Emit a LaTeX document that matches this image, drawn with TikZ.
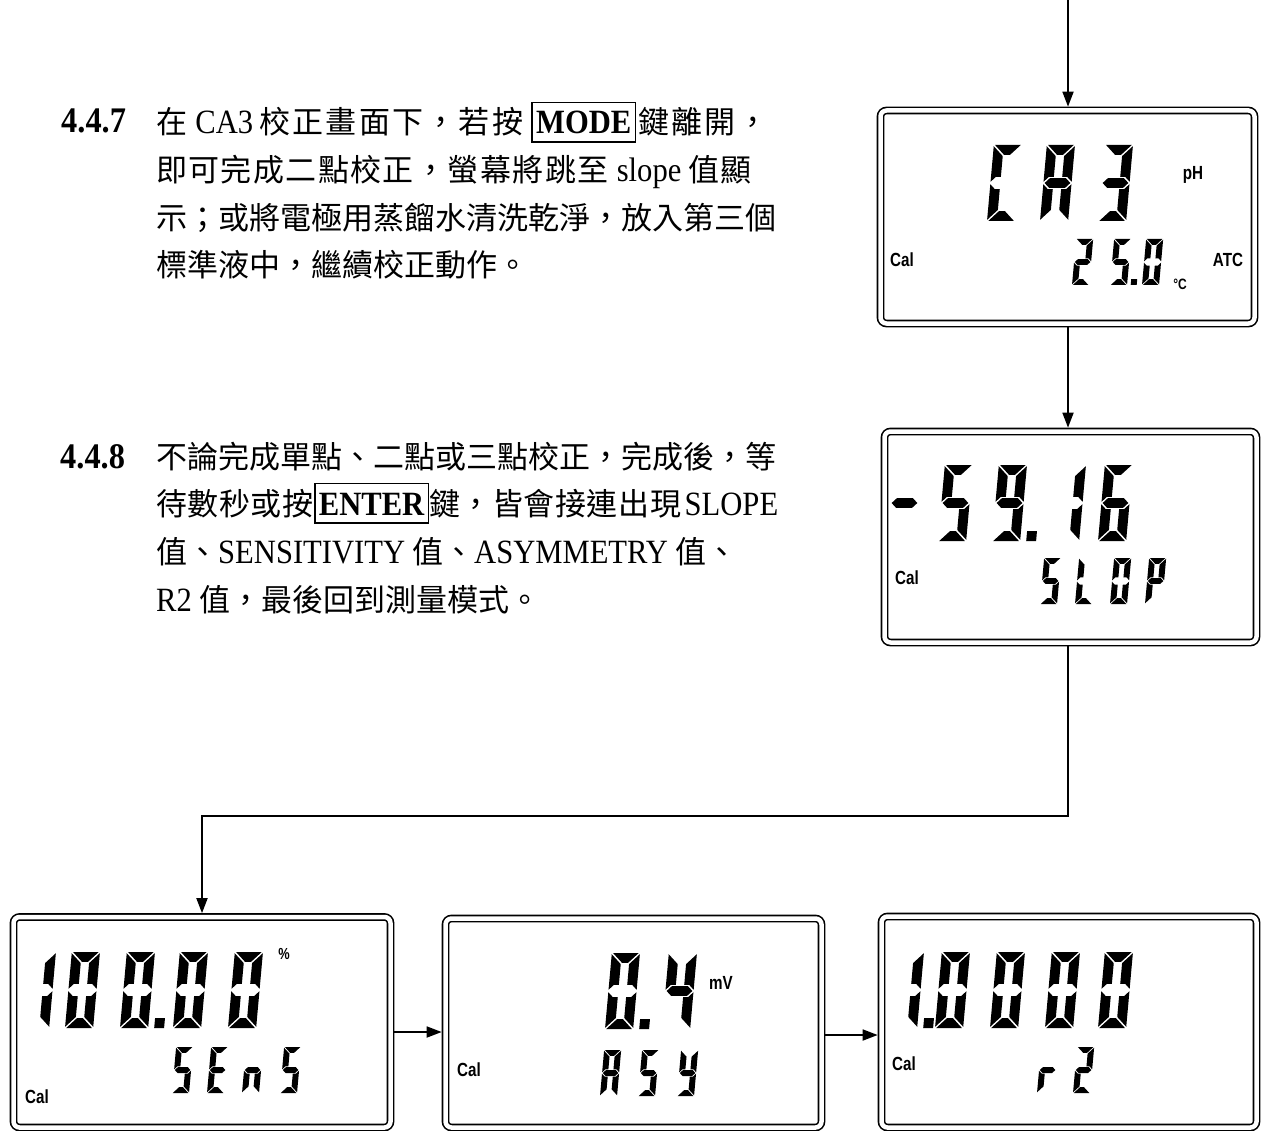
\documentclass[tikz,border=0pt]{standalone}
\usepackage{fontspec}
\usepackage{graphicx}
\setmainfont{Liberation Serif}[FakeStretch=0.9]
\newfontfamily\cjk{Noto Sans CJK TC}
\newfontfamily\lcdf{Liberation Sans}
\usetikzlibrary{arrows.meta}
\newcommand\zh[1]{{\cjk\fontsize{31pt}{34pt}\selectfont #1}}
% CJK with stretchable glue between characters (for justified lines)
\def\zsend{zs-end-marker}
\def\zsloop#1{\ifx#1\zsend\else#1\hskip 0pt plus 2pt\relax\expandafter\zsloop\fi}
\newcommand\zs[1]{{\cjk\fontsize{31pt}{34pt}\selectfont\zsloop#1\zsend}}
\newcommand\keyb[1]{{\fboxsep=0.8pt\fboxrule=1.5pt\fbox{\rule[-6.5pt]{0pt}{36.5pt}\hspace{2.5pt}\bfseries #1\hspace{2.5pt}}}}
\newcommand\nar[1]{\scalebox{0.8}[1]{#1}}
% seven segment geometry (local units of digit height), trapezoid segments
\def\Wb{0.37}\def\T{0.13}\def\Gp{0.016}
\def\sgA{\fill (\Gp,0) -- (\Wb-\Gp,0) -- (\Wb-\T-\Gp,\T) -- (\T+\Gp,\T) -- cycle;}
\def\sgD{\fill (\Gp,1) -- (\Wb-\Gp,1) -- (\Wb-\T-\Gp,1-\T) -- (\T+\Gp,1-\T) -- cycle;}
\def\sgF{\fill (0,\Gp) -- (\T,\T+\Gp) -- (\T,0.5-\T/2-\Gp) -- (\T/2,0.5-\T/2-\Gp) -- (0,0.5-\Gp) -- cycle;}
\def\sgE{\fill (0,1-\Gp) -- (\T,1-\T-\Gp) -- (\T,0.5+\T/2+\Gp) -- (\T/2,0.5+\T/2+\Gp) -- (0,0.5+\Gp) -- cycle;}
\def\sgB{\fill (\Wb,\Gp) -- (\Wb-\T,\T+\Gp) -- (\Wb-\T,0.5-\T/2-\Gp) -- (\Wb-\T/2,0.5-\T/2-\Gp) -- (\Wb,0.5-\Gp) -- cycle;}
\def\sgC{\fill (\Wb,1-\Gp) -- (\Wb-\T,1-\T-\Gp) -- (\Wb-\T,0.5+\T/2+\Gp) -- (\Wb-\T/2,0.5+\T/2+\Gp) -- (\Wb,0.5+\Gp) -- cycle;}
\def\sgG{\fill (\Gp,0.5) -- (\T/2+\Gp,0.5-\T/2) -- (\Wb-\T/2-\Gp,0.5-\T/2) -- (\Wb-\Gp,0.5) -- (\Wb-\T/2-\Gp,0.5+\T/2) -- (\T/2+\Gp,0.5+\T/2) -- cycle;}
\def\sgP{\fill (\Wb+0.08,1-\T) rectangle (\Wb+0.08+\T,1);}
\newcommand\dig[4]{\begin{scope}[shift={(#1+0.09*#3,#2)},xslant=0.09,scale=#3]\foreach \q in {#4}{\csname sg\q\endcsname}\end{scope}}
\tikzset{
  lcd/.style={draw, double, line width=1.6pt, double distance=4.5pt, rounded corners=6pt, inner sep=0pt, outer sep=3.85pt},
  arr/.style={line width=1.8pt, -{Triangle[length=15pt,width=11pt]}},
  txt/.style={anchor=base west, inner sep=0pt, font=\fontsize{34pt}{38pt}\selectfont},
  num/.style={anchor=base west, inner sep=0pt, font=\fontsize{36pt}{38pt}\selectfont\bfseries},
  lab/.style={inner sep=0pt, font=\lcdf\bfseries\fontsize{19pt}{20pt}\selectfont},
}
\begin{document}
\begin{tikzpicture}[x=1pt,y=-1pt]
\useasboundingbox (0,0) rectangle (1265,1131);
% ---- text 4.4.7
\node[num] (n447) at (61,133) {4.4.7};
\node[txt] (t1) at (156,134) {\makebox[615pt][s]{\zs{在}\hspace{6pt}CA3\hspace{6pt}\zs{校正畫面下，若按}\hspace{6pt}\keyb{MODE}\hspace{2pt}\zs{鍵離開，}}};
\node[txt] (t2) at (156,182) {\makebox[597pt][s]{\zs{即可完成二點校正，螢幕將跳至}\hspace{7pt}slope\hspace{7pt}\zs{值顯}}};
\node[txt] (t3) at (156,230) {\zh{示；或將電極用蒸餾水清洗乾淨，放入第三個}};
\node[txt] (t4) at (156,277) {\zh{標準液中，繼續校正動作。}};
% ---- text 4.4.8
\node[num] (n448) at (60,468) {4.4.8};
\node[txt] (u1) at (156,468) {\zh{不論完成單點、二點或三點校正，完成後，等}};
\node[txt] (u2) at (156,515) {\makebox[622pt][s]{\zs{待數秒或按}\keyb{ENTER}\zs{鍵，皆會接連出現}\hspace{3pt}SLOPE}};
\node[txt] (u3) at (156,563) {\zh{值、}SENSITIVITY\hspace{7pt}\zh{值、}ASYMMETRY\hspace{7pt}\zh{值、}};
\node[txt] (u4) at (156,611) {R2 \zh{值，最後回到測量模式。}};
% ---- LCD frames
\node[lcd, minimum width=374pt, minimum height=213pt] (b1) at (1067.5,217) {};
\node[lcd, minimum width=372pt, minimum height=211pt] (b2) at (1070.5,537) {};
\node[lcd, minimum width=377pt, minimum height=210.5pt] (b3) at (202,1022.25) {};
\node[lcd, minimum width=376pt, minimum height=209pt] (b4) at (633.5,1023) {};
\node[lcd, minimum width=375pt, minimum height=211pt] (b5) at (1069,1022) {};
% ---- connectors
\coordinate (top) at (1068,0);
\coordinate (bend) at (1068,816);
\draw[arr] (top) -- (top |- b1.north);
\draw[arr] (b1.south -| top) -- (b2.north -| top);
\draw[arr] (b2.south -| top) -- (bend) -| (b3.north);
\draw[arr] ([yshift=-9.75pt]b3.east) -- ([yshift=-9.75pt]b3.east -| b4.west);
\draw[arr] ([yshift=-12pt]b4.east) -- ([yshift=-12pt]b4.east -| b5.west);
% ---- box 1 : CA3 / 25.0
\dig{987}{145}{76}{A,D,E,F}
\dig{1040}{145}{76}{A,B,C,E,F,G}
\dig{1098}{145}{76}{A,B,C,D,G}
\dig{1072}{239}{46}{A,B,G,E,D}
\dig{1110}{239}{46}{A,F,G,C,D,P}
\dig{1142}{239}{46}{A,B,C,D,E,F}
\node[lab] (ph) at (1193,175) {\nar{pH}};
\node[lab] (cal1) at (902,260) {\nar{Cal}};
\node[lab] (atc) at (1228,260) {\nar{ATC}};
\node[lab, font=\lcdf\bfseries\fontsize{15pt}{16pt}\selectfont] (degc) at (1180,284) {\nar{°C}};
% ---- box 2 : -59.16 / SLOP
\dig{887}{465}{76}{G}
\dig{938}{465}{76}{A,F,G,C,D}
\dig{992}{465}{76}{A,B,C,D,F,G,P}
\dig{1051}{465}{76}{B,C}
\dig{1098}{465}{76}{A,F,G,E,D,C}
\dig{1040}{558}{46}{A,F,G,C,D}
\dig{1075}{558}{46}{F,E,D}
\dig{1110}{558}{46}{A,B,C,D,E,F}
\dig{1145}{558}{46}{A,B,F,G,E}
\node[lab] (cal2) at (907,578) {\nar{Cal}};
% ---- box 3 : 100.00 / SEnS
\dig{21}{952}{76}{B,C}
\dig{65}{952}{76}{A,B,C,D,E,F}
\dig{120}{952}{76}{A,B,C,D,E,F,P}
\dig{173}{952}{76}{A,B,C,D,E,F}
\dig{228}{952}{76}{A,B,C,D,E,F}
\dig{172}{1047}{46}{A,F,G,C,D}
\dig{207}{1047}{46}{A,F,G,E,D}
\dig{242}{1047}{46}{E,G,C}
\dig{280}{1047}{46}{A,F,G,C,D}
\node[lab, font=\lcdf\bfseries\fontsize{16pt}{17pt}\selectfont] (pct) at (284,954) {\nar{\%}};
\node[lab] (cal3) at (37,1097) {\nar{Cal}};
% ---- box 4 : 0.4 / ASY
\dig{605}{953}{76}{A,B,C,D,E,F,P}
\dig{662}{953}{76}{B,C,F,G}
\dig{600}{1050}{46}{A,B,C,E,F,G}
\dig{638}{1050}{46}{A,F,G,C,D}
\dig{677}{1050}{46}{F,G,B,C,D}
\node[lab] (mv) at (721,983) {\nar{mV}};
\node[lab] (cal4) at (469,1070) {\nar{Cal}};
% ---- box 5 : 1.0000 / r2
\dig{889}{952}{76}{B,C,P}
\dig{935}{952}{76}{A,B,C,D,E,F}
\dig{990}{952}{76}{A,B,C,D,E,F}
\dig{1045}{952}{76}{A,B,C,D,E,F}
\dig{1098}{952}{76}{A,B,C,D,E,F}
\dig{1037}{1047}{46}{E,G}
\dig{1073}{1047}{46}{A,B,G,E,D}
\node[lab] (cal5) at (904,1064) {\nar{Cal}};
\end{tikzpicture}
\end{document}
